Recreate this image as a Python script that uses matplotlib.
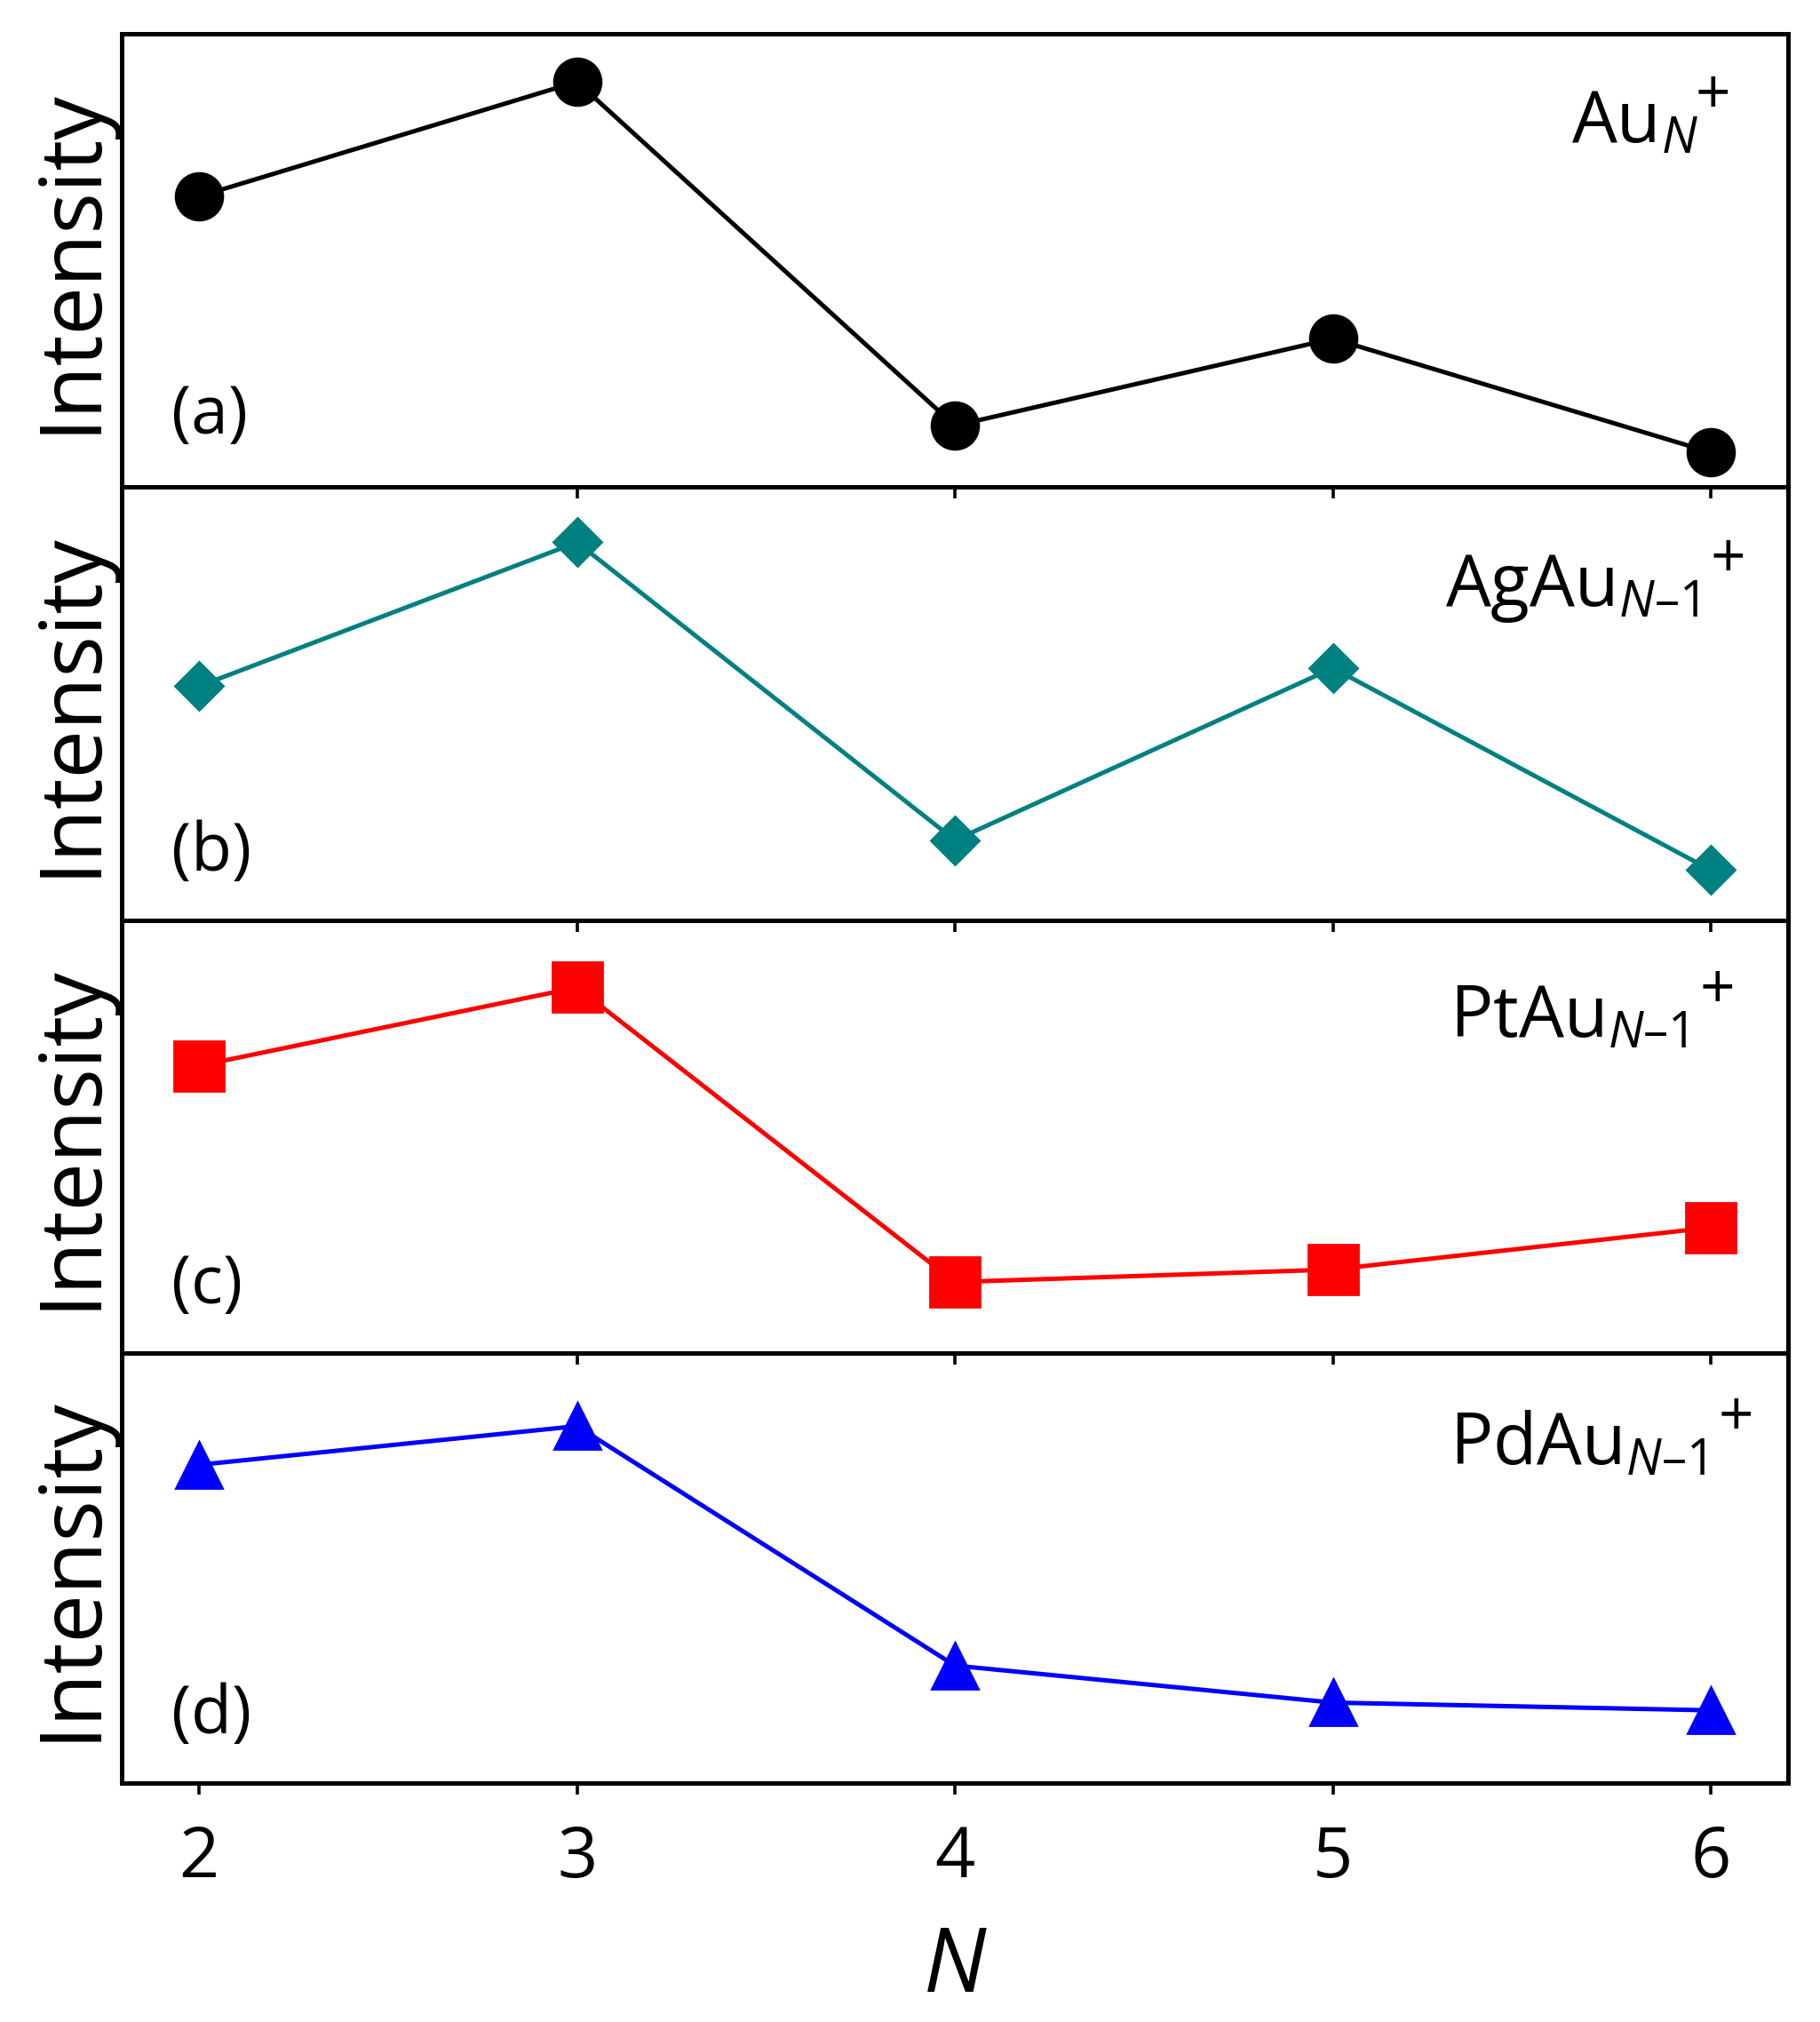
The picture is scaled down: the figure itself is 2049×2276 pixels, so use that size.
import numpy as np
import matplotlib
matplotlib.use("Agg")
import matplotlib.pyplot as plt

# cluster size
n_atoms = [2, 3, 4, 5, 6]

# relative intensities (arb. units)
au_int = [0.641, 0.894, 0.135, 0.327, 0.076]
agau_int = [0.540, 0.872, 0.185, 0.582, 0.116]
ptau_int = [0.664, 0.845, 0.164, 0.193, 0.290]
pdau_int = [0.740, 0.830, 0.273, 0.187, 0.169]

species = [r'$\mathrm{Au}_{N}$',
           r'$\mathrm{AgAu}_{N\mathrm{–1}}$',
           r'$\mathrm{PtAu}_{N\mathrm{–1}}$',
           r'$\mathrm{PdAu}_{N\mathrm{–1}}$']
charge = '+'
panel_tags = ['(a)', '(b)', '(c)', '(d)']

plt.rcParams['font.family'] = ['Open Sans', 'DejaVu Sans']
plt.rcParams['mathtext.fontset'] = 'custom'
plt.rcParams['mathtext.rm'] = 'Open Sans'
plt.rcParams['mathtext.it'] = 'Open Sans:italic'

# styles per panel
series = [au_int, agau_int, ptau_int, pdau_int]
colors = ['black', '#008080', '#ff0000', '#0000ff']
markers = ['o', 'D', 's', '^']
msizes = [19, 13.5, 20, 18.5]
label_x = [0.870, 0.794, 0.797, 0.797]
label_y = [0.761, 0.725, 0.731, 0.742]
plus_gap = [-3, 14, 14, 14]   # pixels between subscript and "+"

fig = plt.figure(figsize=(10.245, 11.38), dpi=200)
gs = fig.add_gridspec(4, 1, left=0.0669, right=0.9824, top=0.9833, bottom=0.1182,
                      hspace=0, height_ratios=[510, 488, 487, 484])

axes = []
labels = []
for i in range(4):
    ax = fig.add_subplot(gs[i])
    ax.set_facecolor('none')
    ax.plot(n_atoms, series[i], color=colors[i], lw=1.8, marker=markers[i],
            ms=msizes[i], mfc=colors[i], mec=colors[i], clip_on=False)
    ax.set_xlim(1.7955, 6.204)
    ax.set_ylim(0, 1)
    ax.set_yticks([])
    for sp in ax.spines.values():
        sp.set_linewidth(1.8)
    ax.set_ylabel('Intensity', fontsize=35, labelpad=3)
    t = ax.text(label_x[i], label_y[i], species[i], transform=ax.transAxes,
                fontsize=29, ha='left', va='baseline')
    ax.text(0.030, 0.155, panel_tags[i], transform=ax.transAxes,
            fontsize=27, ha='left', va='center')
    if i < 3:
        ax.set_xticks([3, 4, 5, 6])
        ax.tick_params(axis='x', direction='out', length=4.5, width=1.3,
                       labelbottom=False)
    else:
        ax.set_xticks(n_atoms)
        ax.tick_params(axis='x', direction='out', length=4.5, width=1.3,
                       labelsize=28.5, pad=12)
        ax.set_xlabel('N', fontsize=36, style='italic', labelpad=12)
    axes.append(ax)
    labels.append(t)

# put the charge sign after the subscript, raised like in the original
fig.canvas.draw()
for i, ax in enumerate(axes):
    bb = labels[i].get_window_extent()
    x_ax, _ = ax.transAxes.inverted().transform((bb.x1 + plus_gap[i], 0))
    h_px = ax.get_window_extent().height
    ax.text(x_ax, label_y[i] + 50 / h_px, charge, transform=ax.transAxes,
            fontsize=25, ha='left', va='center')

fig.savefig('out.png', dpi=200)
